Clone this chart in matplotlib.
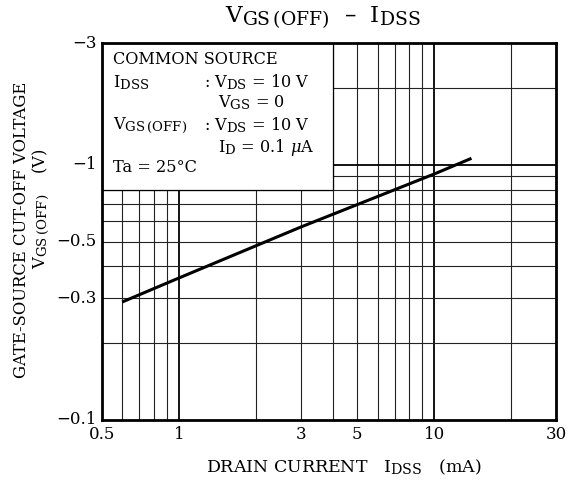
#!/usr/bin/env python3
"""VGS(OFF) vs IDSS characteristic (log-log datasheet chart)."""

import matplotlib
matplotlib.use("Agg")
import matplotlib.pyplot as plt
import matplotlib._mathtext as mathtext_impl
from matplotlib.patches import Rectangle
from matplotlib.ticker import FixedLocator, NullFormatter

plt.rcParams["font.family"] = ["DejaVu Serif"]
plt.rcParams["mathtext.fontset"] = "dejavuserif"
# datasheet subscripts are nearly full size
mathtext_impl.SHRINK_FACTOR = 0.82

# curve
idss_ma = [0.6, 1.0, 3.0, 10.0, 14.0]
vgs_off = [-0.29, -0.36, -0.57, -0.92, -1.06]

x_ticks = [0.5, 1, 3, 5, 10, 30]
x_tick_labels = ["0.5", "1", "3", "5", "10", "30"]
y_ticks = [-0.1, -0.3, -0.5, -1, -3]
y_tick_labels = ["\u22120.1", "\u22120.3", "\u22120.5", "\u22121", "\u22123"]

W, H = 570, 482
fig = plt.figure(figsize=(W / 100, H / 100), dpi=100)
ax = fig.add_axes([102 / W, 1 - 420 / H, (556 - 102) / W, (420 - 43) / H])

ax.set_xscale("log")
ax.set_yscale("log")
ax.set_xlim(0.5, 30)
ax.set_ylim(0.1, 3)

ax.xaxis.set_major_locator(FixedLocator([1, 10]))
ax.xaxis.set_minor_locator(FixedLocator([0.6, 0.7, 0.8, 0.9, 2, 3, 4, 5, 6, 7, 8, 9, 20]))
ax.yaxis.set_major_locator(FixedLocator([1]))
ax.yaxis.set_minor_locator(FixedLocator([0.2, 0.3, 0.4, 0.5, 0.6, 0.7, 0.8, 0.9, 2]))
ax.xaxis.set_major_formatter(NullFormatter())
ax.xaxis.set_minor_formatter(NullFormatter())
ax.yaxis.set_major_formatter(NullFormatter())
ax.yaxis.set_minor_formatter(NullFormatter())
ax.tick_params(which="both", length=0)

ax.set_axisbelow(True)
ax.grid(which="major", color="black", linewidth=1.3)
ax.grid(which="minor", color="#222222", linewidth=0.8)

for s in ax.spines.values():
    s.set_linewidth(2.0)

# tick labels as plain text so the unusual positions stay exact
for v, lab in zip(x_ticks, x_tick_labels):
    ax.text(v, -0.016, lab, transform=ax.get_xaxis_transform(), ha="center", va="top", fontsize=12)
for v, lab in zip(y_ticks, y_tick_labels):
    ax.text(-0.012, -v, lab, transform=ax.get_yaxis_transform(), ha="right", va="center", fontsize=12)

# white condition box hides the upper-left part of the grid
ax.add_patch(Rectangle((0.5, 0.8), 4 - 0.5, 3 - 0.8, facecolor="white",
                       edgecolor="black", linewidth=0.9, zorder=1.5))

ax.plot(idss_ma, [-v for v in vgs_off], color="black", linewidth=2.2,
        solid_capstyle="butt", zorder=3)

fs = 11.6
def ftext(px, py, s, **kw):
    fig.text(px / W, 1 - py / H, s, fontsize=kw.pop("fontsize", fs), va="center", **kw)

ftext(113, 60, "COMMON SOURCE")
ftext(113, 83, r"I$_\mathregular{DSS}$")
ftext(204, 82, r": V$_\mathregular{DS}$ = 10 V")
ftext(218, 103, r"V$_\mathregular{GS}$ = 0")
ftext(113, 126, r"V$_\mathregular{GS\,(OFF)}$")
ftext(204, 125, r": V$_\mathregular{DS}$ = 10 V")
ftext(218, 147, r"I$_\mathregular{D}$ = 0.1 $\mu$A")
ftext(113, 167, "Ta = 25\u00b0C")

ftext(323, 18, "V$_\\mathregular{GS\\,(OFF)}$  \u2013  I$_\\mathregular{DSS}$", ha="center", fontsize=16.5)
ftext(344, 467, r"DRAIN CURRENT   I$_\mathregular{DSS}$   (mA)", ha="center", fontsize=12.5)

fig.text(22 / W, 1 - 230 / H, "GATE-SOURCE CUT-OFF VOLTAGE", rotation=90,
         ha="center", va="center", fontsize=11.8)
fig.text(41 / W, 1 - 209 / H, r"V$_\mathregular{GS\,(OFF)}$    (V)", rotation=90,
         ha="center", va="center", fontsize=11.8)

fig.savefig("out.png", dpi=100)
